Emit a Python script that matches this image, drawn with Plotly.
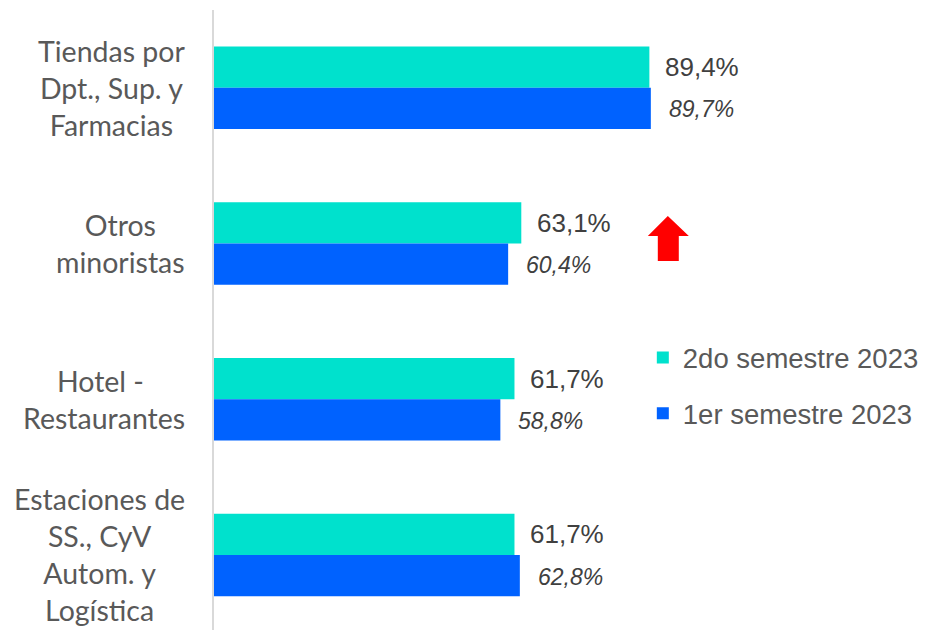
import plotly.graph_objects as go

categories = ["Tiendas por<br>Dpt., Sup. y<br>Farmacias", "Otros<br>minoristas",
              "Hotel - <br>Restaurantes", "Estaciones de<br>SS., CyV<br>Autom. y<br>Logística"]
s2_name = "2do semestre 2023"
s1_name = "1er semestre 2023"
s2_values = [89.4, 63.1, 61.7, 61.7]
s1_values = [89.7, 60.4, 58.8, 62.8]
s2_labels = ["89,4%", "63,1%", "61,7%", "61,7%"]
s1_labels = ["89,7%", "60,4%", "58,8%", "62,8%"]

TEAL = "#00E1CD"
BLUE = "#0062FF"
W, H = 927, 630
L, T = 214, 10
PX_PER = 4.872
XMAX = 100
R = W - (L + PX_PER * XMAX)
PH = H - T
CAT_PX = 155.7
y_top = -0.5
y_bot = y_top + PH / CAT_PX

pos = list(range(len(categories)))

fig = go.Figure()
fig.add_trace(go.Bar(y=pos, x=s2_values, orientation="h", name=s2_name,
                     marker=dict(color=TEAL, line=dict(width=0)), legendgroup="a"))
fig.add_trace(go.Bar(y=pos, x=s1_values, orientation="h", name=s1_name,
                     marker=dict(color=BLUE, line=dict(width=0)), legendgroup="b"))

bargap = 0.47
half = (1 - bargap) / 4
ann = []
for i, (v, t) in enumerate(zip(s2_values, s2_labels)):
    ann.append(dict(x=v, y=i - half, xref="x", yref="y", text=t, showarrow=False,
                    xanchor="left", xshift=14, yshift=0,
                    font=dict(family="Liberation Sans, Arial", size=26, color="#404040")))
for i, (v, t) in enumerate(zip(s1_values, s1_labels)):
    ann.append(dict(x=v, y=i + half, xref="x", yref="y", text="<i>" + t + "</i>", showarrow=False,
                    xanchor="left", xshift=16, yshift=-1,
                    font=dict(family="Liberation Sans, Arial", size=23, color="#404040")))
for i, c in enumerate(categories):
    ann.append(dict(x=(187 - L) / (W - L - R), xref="paper", y=i, yref="y", text=c,
                    showarrow=False, xanchor="right", align="center", yanchor="middle",
                    font=dict(family="Lato", size=28.5, color="#595959")))

def px(xp, yp):
    return (xp - L) / (W - L - R), (H - yp) / PH

pts = [(648, 236), (668, 216), (689, 236), (679, 236), (679, 261), (658, 261), (658, 236)]
path = "M " + " L ".join(f"{px(a, b)[0]:.4f},{px(a, b)[1]:.4f}" for a, b in pts) + " Z"

fig.update_layout(
    width=W, height=H,
    margin=dict(l=L, r=R, t=T, b=0, pad=0, autoexpand=False),
    paper_bgcolor="white", plot_bgcolor="white",
    barmode="group", bargap=bargap, bargroupgap=0,
    xaxis=dict(range=[0, XMAX], visible=False, fixedrange=True),
    yaxis=dict(range=[y_bot, y_top], showticklabels=False, showgrid=False, zeroline=False,
               showline=True, linecolor="#D9D9D9", linewidth=2, ticks=""),
    annotations=ann,
    shapes=[dict(type="path", path=path, xref="paper", yref="paper",
                 fillcolor="#FF0000", line=dict(width=0))],
    legend=dict(x=(643 - L) / (W - L - R), xanchor="left", y=(H - 333) / PH, yanchor="top",
                font=dict(family="Liberation Sans, Arial", size=27.5, color="#595959"),
                traceorder="grouped", tracegroupgap=17, bgcolor="rgba(0,0,0,0)"),
    showlegend=True,
)
fig.write_html("out.html", config={"displayModeBar": False},
               post_script="document.body.style.margin='0';document.body.style.overflow='hidden';")
